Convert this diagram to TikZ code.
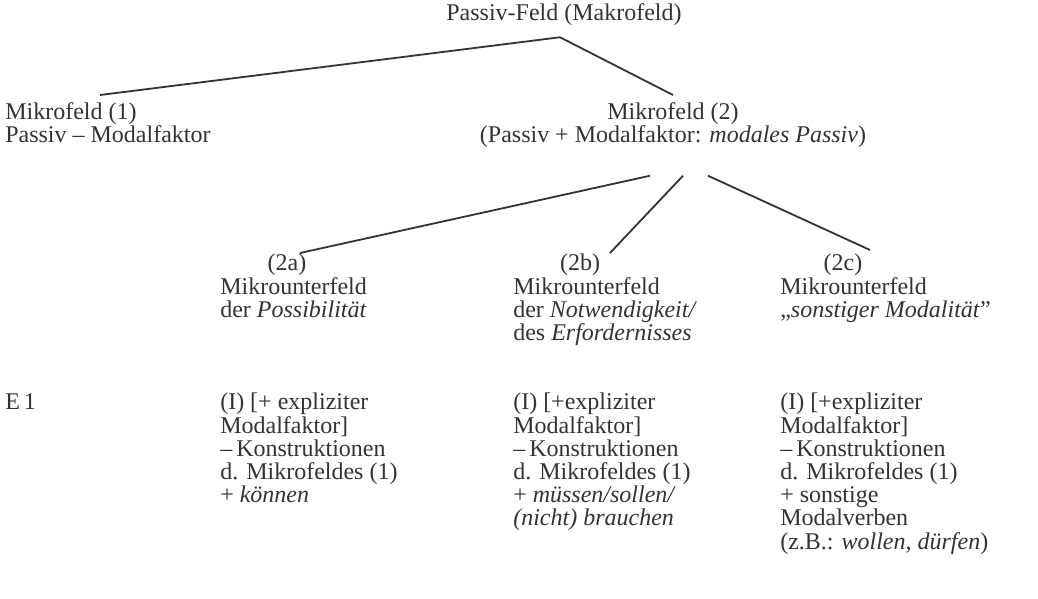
\documentclass[tikz,border=0pt]{standalone}
\usepackage{fontspec}
\setmainfont{Liberation Serif}
\usetikzlibrary{calc}
\definecolor{ink}{HTML}{333333}

\begin{document}
\begin{tikzpicture}[x=0.75pt,y=-0.75pt]
  \tikzstyle{every node}=[inner sep=0pt,text=ink,font=\fontsize{18}{17.4}\selectfont]
  \tikzstyle{block}=[anchor=north west,align=left]
  \tikzstyle{branch}=[draw=ink,line width=1.35pt]
  \useasboundingbox (0,0) rectangle (1038,599);
  % Makrofeld und Mikrofelder
  \node (makro) at (564,15) {Passiv-Feld (Makrofeld)};
  \node[block] (mikro1) at (5,102) {Mikrofeld (1)\\Passiv -- Modalfaktor};
  \node[anchor=north,align=center] (mikro2) at (673,102)
    {Mikrofeld (2)\\(Passiv + Modalfaktor: \textit{modales Passiv})};
  \draw[branch] ($(makro.south)+(-4,11)$) -- ($(mikro1.north west)+(95,-7)$);
  \draw[branch] ($(makro.south)+(-4,11)$) -- ($(mikro2.north)+(0,-7)$);
  % Mikrounterfelder
  \node[anchor=north] (numa) at (287,254) {(2a)};
  \node[anchor=north] (numb) at (580,254) {(2b)};
  \node[anchor=north] (numc) at (843,254) {(2c)};
  \node[block] (unta) at (220,277) {Mikrounterfeld\\der \textit{Possibilität}};
  \node[block] (untb) at (513,277)
    {Mikrounterfeld\\der \textit{Notwendigkeit/}\\des \textit{Erfordernisses}};
  \node[block] (untc) at (780,277)
    {Mikrounterfeld\\„\textit{sonstiger Modalität}”};
  \draw[branch] ($(mikro2.south)+(-23,28)$) -- ($(numa.north)+(13,-1)$);
  \draw[branch] ($(mikro2.south)+(10,28)$) -- ($(numb.north)+(30,-1)$);
  \draw[branch] ($(mikro2.south)+(35,28)$) -- ($(numc.north)+(27,-4)$);
  % Ebene E 1
  \node[block] (ebene) at (5,393) {E\,1};
  \node[block] (konsa) at (220,393)
    {(I) [+ expliziter\\Modalfaktor]\\--\,Konstruktionen\\d. Mikrofeldes (1)\\+ \textit{können}};
  \node[block] (konsb) at (513,393)
    {(I) [+expliziter\\Modalfaktor]\\--\,Konstruktionen\\d. Mikrofeldes (1)\\+ \textit{müssen/sollen/}\\\textit{(nicht) brauchen}};
  \node[block] (konsc) at (780,393)
    {(I) [+expliziter\\Modalfaktor]\\--\,Konstruktionen\\d. Mikrofeldes (1)\\+ sonstige\\Modalverben\\(z.B.: \textit{wollen, dürfen})};
\end{tikzpicture}
\end{document}
